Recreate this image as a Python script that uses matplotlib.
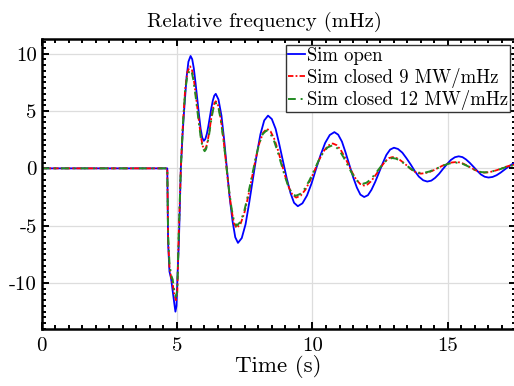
import matplotlib
matplotlib.use("Agg")
import matplotlib.pyplot as plt
from matplotlib.ticker import MultipleLocator

# values
t_open = [0, 4.64, 4.67, 4.72, 4.78, 4.84, 4.90, 4.94, 4.98, 5.02, 5.07, 5.14, 5.20, 5.26, 5.35,
          5.42, 5.50, 5.56, 5.62, 5.68, 5.745, 5.81, 5.87, 5.93, 5.99, 6.045, 6.10, 6.155,
          6.21, 6.265, 6.32, 6.375, 6.43, 6.53, 6.64, 6.74, 6.84, 6.94, 7.05, 7.15, 7.25,
          7.39, 7.53, 7.66, 7.80, 7.94, 8.08, 8.22, 8.36, 8.50, 8.64, 8.77, 8.91, 9.05, 9.19,
          9.32, 9.46, 9.63, 9.80, 9.97, 10.13, 10.30, 10.47, 10.64, 10.81, 10.95, 11.09,
          11.22, 11.36, 11.50, 11.64, 11.77, 11.91, 12.05, 12.18, 12.32, 12.46, 12.60, 12.73,
          12.87, 13.01, 13.16, 13.32, 13.47, 13.63, 13.78, 13.93, 14.09, 14.24, 14.39, 14.53,
          14.68, 14.82, 14.97, 15.11, 15.26, 15.40, 15.54, 15.67, 15.81, 15.95, 16.09, 16.22,
          16.36, 16.50, 16.65, 16.80, 16.95, 17.10, 17.25, 17.40, 17.55]
f_open = [0, 0, -6.5, -9.0, -9.6, -10.7, -11.8, -12.5, -12.0, -9.2, -6.3, 0.0, 2.8, 5.0, 7.9,
          9.3, 9.8, 9.52, 8.72, 7.51, 6.1, 4.69, 3.48, 2.68, 2.4, 2.56, 3.0, 3.67,
          4.45, 5.23, 5.9, 6.34, 6.5, 6.01, 4.6, 2.48, 0.0, -2.48, -4.6, -6.01, -6.5,
          -6.08, -4.88, -3.07, -0.95, 1.17, 2.98, 4.18, 4.6, 4.30, 3.45, 2.16, 0.65, -0.86, -2.15,
          -3.0, -3.3, -3.05, -2.36, -1.30, -0.07, 1.16, 2.22, 2.91, 3.16, 2.94, 2.33,
          1.41, 0.33, -0.75, -1.67, -2.29, -2.5, -2.34, -1.87, -1.17, -0.35, 0.47, 1.17,
          1.64, 1.8, 1.69, 1.37, 0.89, 0.33, -0.24, -0.72, -1.04, -1.15, -1.07, -0.83,
          -0.47, -0.05, 0.37, 0.73, 0.97, 1.05, 0.98, 0.78, 0.48, 0.13, -0.23, -0.53,
          -0.73, -0.8, -0.75, -0.60, -0.37, -0.1, 0.17, 0.4, 0.54]

t_c9 = [0, 4.64, 4.67, 4.72, 4.78, 4.84, 4.90, 4.96, 5.01, 5.06, 5.14, 5.22, 5.30, 5.38, 5.48,
        5.55, 5.615, 5.68, 5.75, 5.82, 5.885, 5.95, 6.02, 6.07, 6.12, 6.175, 6.225, 6.275,
        6.33, 6.38, 6.43, 6.53, 6.62, 6.72, 6.815, 6.91, 7.01, 7.10, 7.20, 7.34, 7.48, 7.62,
        7.76, 7.90, 8.04, 8.18, 8.32, 8.455, 8.59, 8.725, 8.86, 8.995, 9.13, 9.265, 9.40,
        9.57, 9.74, 9.91, 10.08, 10.24, 10.41, 10.58, 10.75, 10.89, 11.04, 11.18, 11.33,
        11.47, 11.61, 11.76, 11.90, 12.03, 12.16, 12.29, 12.43, 12.56, 12.69, 12.82, 12.95,
        13.08, 13.21, 13.34, 13.48, 13.61, 13.74, 13.87, 14.00, 14.16, 14.33, 14.49, 14.65,
        14.81, 14.98, 15.14, 15.30, 15.43, 15.56, 15.69, 15.83, 15.96, 16.09, 16.22, 16.35,
        16.51, 16.66, 16.82, 16.98, 17.13, 17.29, 17.44, 17.60]
f_c9 = [0, 0, -6.2, -8.6, -9.5, -10.1, -11.0, -11.5, -10.8, -6.0, 0.0, 4.0, 6.9, 8.4, 8.9,
        8.62, 7.84, 6.66, 5.28, 3.89, 2.71, 1.93, 1.65, 1.81, 2.26, 2.95, 3.75, 4.55,
        5.24, 5.69, 5.85, 5.43, 4.24, 2.44, 0.33, -1.79, -3.59, -4.78, -5.2, -4.87, -3.94, -2.53,
        -0.88, 0.78, 2.19, 3.12, 3.45, 3.22, 2.57, 1.60, 0.45, -0.70, -1.67, -2.32, -2.55,
        -2.37, -1.86, -1.09, -0.19, 0.71, 1.48, 1.99, 2.17, 2.03, 1.63, 1.04, 0.34,
        -0.37, -0.96, -1.36, -1.5, -1.41, -1.14, -0.73, -0.26, 0.21, 0.62, 0.89, 0.98,
        0.93, 0.77, 0.54, 0.26, -0.02, -0.25, -0.40, -0.46, -0.42, -0.31, -0.15, 0.05,
        0.24, 0.40, 0.51, 0.55, 0.52, 0.42, 0.27, 0.09, -0.09, -0.24, -0.34, -0.37,
        -0.34, -0.26, -0.15, -0.01, 0.13, 0.24, 0.32, 0.35]

t_c12 = [0, 4.64, 4.67, 4.72, 4.78, 4.84, 4.90, 4.96, 5.01, 5.06, 5.14, 5.22, 5.30, 5.38, 5.48,
         5.55, 5.615, 5.68, 5.75, 5.82, 5.885, 5.95, 6.02, 6.07, 6.12, 6.175, 6.225, 6.275,
         6.33, 6.38, 6.43, 6.53, 6.62, 6.72, 6.815, 6.91, 7.01, 7.10, 7.20, 7.34, 7.475, 7.61,
         7.75, 7.89, 8.025, 8.16, 8.30, 8.435, 8.57, 8.705, 8.84, 8.975, 9.11, 9.245, 9.38,
         9.55, 9.72, 9.89, 10.06, 10.22, 10.39, 10.56, 10.73, 10.87, 11.01, 11.15, 11.29,
         11.43, 11.57, 11.71, 11.85, 11.99, 12.125, 12.26, 12.40, 12.54, 12.675, 12.81, 12.95,
         13.08, 13.21, 13.34, 13.48, 13.61, 13.74, 13.87, 14.00, 14.16, 14.33, 14.49, 14.65,
         14.81, 14.98, 15.14, 15.30, 15.43, 15.56, 15.69, 15.83, 15.96, 16.09, 16.22, 16.35,
         16.51, 16.66, 16.82, 16.98, 17.13, 17.29, 17.44, 17.60]
f_c12 = [0, 0, -5.8, -8.3, -9.3, -9.7, -10.7, -11.2, -10.6, -6.0, 0.0, 3.9, 6.7, 8.1, 8.6,
         8.33, 7.56, 6.41, 5.05, 3.69, 2.54, 1.77, 1.5, 1.66, 2.11, 2.80, 3.6, 4.4,
         5.09, 5.54, 5.7, 5.29, 4.14, 2.39, 0.35, -1.69, -3.44, -4.59, -5.0, -4.68, -3.79, -2.44,
         -0.85, 0.74, 2.09, 2.98, 3.3, 3.08, 2.47, 1.54, 0.45, -0.64, -1.57, -2.18, -2.4,
         -2.23, -1.76, -1.04, -0.2, 0.64, 1.36, 1.83, 2.0, 1.87, 1.51, 0.96, 0.33,
         -0.31, -0.86, -1.22, -1.35, -1.26, -1.02, -0.65, -0.23, 0.20, 0.57, 0.81, 0.9,
         0.85, 0.71, 0.50, 0.25, 0.0, -0.21, -0.35, -0.4, -0.37, -0.27, -0.12, 0.05,
         0.22, 0.37, 0.47, 0.5, 0.47, 0.38, 0.24, 0.08, -0.09, -0.23, -0.32, -0.35,
         -0.33, -0.25, -0.15, -0.03, 0.1, 0.2, 0.28, 0.3]

labels = ["Sim open", "Sim closed 9 MW/mHz", "Sim closed 12 MW/mHz"]

plt.rcParams['font.family'] = 'serif'
plt.rcParams['font.serif'] = ['cmr10', 'DejaVu Serif']
plt.rcParams['axes.unicode_minus'] = False
plt.rcParams['axes.formatter.use_mathtext'] = False

fig = plt.figure(figsize=(5.14, 3.86), dpi=100)
ax = fig.add_axes([0.081, 0.148, 0.922, 0.750])

ax.plot(t_open, f_open, color='#0000ff', lw=1.3, label=labels[0])
ax.plot(t_c9, f_c9, color='#ff0000', lw=1.3, linestyle=(0, (3, 1.2, 1, 1.2)), label=labels[1])
ax.plot(t_c12, f_c12, color='#228b22', lw=1.4, linestyle=(0, (4, 2.5, 1, 2.5)), label=labels[2])

ax.set_xlim(0, 17.5)
ax.set_ylim(-14, 11.25)
ax.xaxis.set_major_locator(MultipleLocator(5))
ax.xaxis.set_minor_locator(MultipleLocator(0.5))
ax.yaxis.set_major_locator(MultipleLocator(5))
ax.yaxis.set_minor_locator(MultipleLocator(0.5))
ax.tick_params(which='both', direction='in', top=True, right=True, labelsize=15, width=1.4)
ax.tick_params(which='major', length=5)
ax.tick_params(which='minor', length=3)
ax.tick_params(axis='x', pad=6)
for s in ax.spines.values():
    s.set_linewidth(1.8)
ax.grid(True, color='#dddddd', lw=0.9)
ax.set_axisbelow(True)

# the title sits a little left of the axes centre in the reference
ax.set_title("Relative frequency (mHz)", fontsize=15, pad=9, x=0.47)
ax.set_xlabel("Time (s)", fontsize=16.5, labelpad=0)

leg = ax.legend(loc='upper right', fontsize=13.5, handlelength=0.9, handletextpad=0.1,
                borderpad=0.1, labelspacing=0.15, borderaxespad=0.3, fancybox=False,
                framealpha=1)
leg.get_frame().set_edgecolor('#333333')
leg.get_frame().set_linewidth(1.0)

fig.savefig("out.png", dpi=100)
